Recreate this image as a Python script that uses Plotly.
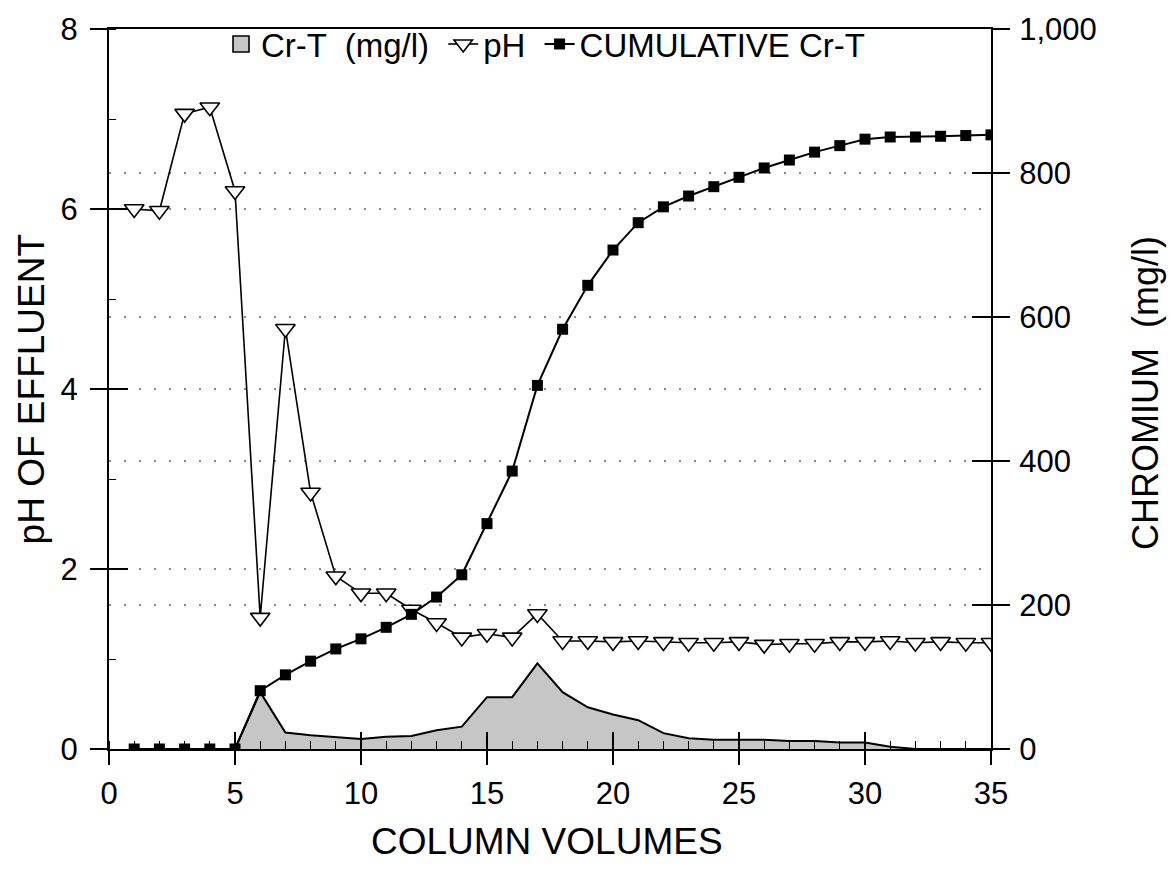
import plotly.graph_objects as go

# ---------------- data ----------------
column_volumes = list(range(1, 36))

ph_values = [6.00, 5.98, 7.06, 7.13, 6.20, 1.46, 4.67, 2.85, 1.92, 1.73,
             1.73, 1.55, 1.40, 1.24, 1.28, 1.24, 1.50, 1.20, 1.20, 1.19,
             1.20, 1.19, 1.18, 1.18, 1.19, 1.16, 1.17, 1.17, 1.19, 1.19,
             1.20, 1.18, 1.19, 1.18, 1.18]

cr_t_values = [0, 0, 0, 0, 0, 79, 23, 19, 17, 14,
               17, 18, 26, 31, 72, 72, 119, 79, 58, 48,
               40, 22, 15, 13, 13, 13, 11, 11, 9, 9,
               3, 0, 0, 0, 0]

cumulative_cr_t = [0, 0, 0, 0, 0, 81, 103, 122, 139, 153,
                   169, 187, 211, 242, 313, 386, 505, 583, 644, 693,
                   731, 753, 768, 781, 794, 807, 818, 829, 838, 847,
                   850, 850, 851, 852, 853]

x_ticks = [0, 5, 10, 15, 20, 25, 30, 35]
ph_ticks = [0, 2, 4, 6, 8]
cr_ticks = [0, 200, 400, 600, 800, 1000]

# ---------------- style ----------------
FONT = "Liberation Sans, Arial, sans-serif"
BLACK = "#000000"
GRID = "#8a8a8a"
DOTS = "2px,13px"
AREA = "#c6c6c6"
PAD = "\u00a0"

fig = go.Figure()

# legend proxy for the shaded Cr-T area (boxed swatch as in the original)
fig.add_trace(go.Scatter(
    x=[None], y=[None], name="Cr-T  (mg/l)" + PAD, yaxis="y2",
    mode="markers", legendrank=1, hoverinfo="skip",
    marker=dict(symbol="square", size=16, color=AREA,
                line=dict(color=BLACK, width=1.6)),
))

fig.add_trace(go.Scatter(
    x=column_volumes, y=ph_values, name="pH" + PAD, yaxis="y",
    mode="lines+markers", legendrank=2,
    line=dict(color=BLACK, width=1.6),
    marker=dict(symbol="triangle-down", size=17, color="white",
                line=dict(color=BLACK, width=1.6)),
))

fig.add_trace(go.Scatter(
    x=column_volumes, y=cr_t_values, name="Cr-T  (mg/l)", yaxis="y2",
    mode="lines", fill="tozeroy", fillcolor=AREA, showlegend=False,
    line=dict(color=BLACK, width=2),
))

fig.add_trace(go.Scatter(
    x=column_volumes, y=cumulative_cr_t, name="CUMULATIVE Cr-T", yaxis="y2",
    mode="lines+markers", legendrank=3,
    line=dict(color=BLACK, width=2),
    marker=dict(symbol="square", size=11, color=BLACK),
))

# invisible helpers so the overlay tick axes (ticks crossing the frame) are drawn
for xa, ya, xv, yv in [("x2", "y", x_ticks[0], ph_ticks[0]),
                       ("x", "y3", x_ticks[0], ph_ticks[0]),
                       ("x", "y4", x_ticks[0], cr_ticks[0])]:
    fig.add_trace(go.Scatter(x=[xv], y=[yv], xaxis=xa, yaxis=ya, mode="markers",
                             marker=dict(opacity=0, size=1), showlegend=False,
                             hoverinfo="skip"))

tickfont = dict(family=FONT, size=31, color=BLACK)

fig.update_layout(
    width=1171, height=879,
    margin=dict(l=109, r=180, t=24, b=130),
    paper_bgcolor="white", plot_bgcolor="white",
    font=dict(family=FONT, color=BLACK),
    showlegend=True,
    legend=dict(orientation="h", x=0.127, y=1.018, xanchor="left", yanchor="top",
                font=dict(family=FONT, size=33, color=BLACK),
                bgcolor="rgba(0,0,0,0)", itemwidth=30, traceorder="normal",
                tracegroupgap=0),
    xaxis=dict(range=[0, 35], tickvals=x_ticks, ticks="outside", ticklen=14,
               tickwidth=1.6, tickcolor=BLACK, showline=True, linewidth=2,
               linecolor=BLACK, mirror=True, showgrid=False, zeroline=False,
               tickfont=tickfont, ticklabelstandoff=2,
               minor=dict(ticks="inside", dtick=1, ticklen=8, tickwidth=1.2,
                          tickcolor=BLACK, showgrid=False)),
    xaxis2=dict(range=[0, 35], overlaying="x", anchor="y", side="bottom",
                tickvals=x_ticks, ticks="inside", ticklen=17, tickwidth=1.6,
                tickcolor=BLACK, showticklabels=False, showgrid=False,
                showline=False, zeroline=False),
    yaxis=dict(range=[0, 8], tickvals=ph_ticks, ticks="outside", ticklen=17,
               tickwidth=1.6, tickcolor=BLACK, showline=True, linewidth=2,
               linecolor=BLACK, showgrid=True, gridcolor=GRID, gridwidth=1.6,
               griddash=DOTS, zeroline=False, tickfont=tickfont,
               ticklabelstandoff=6,
               minor=dict(ticks="inside", dtick=1, ticklen=7, tickwidth=1.2,
                          tickcolor=BLACK, showgrid=False)),
    yaxis2=dict(range=[0, 1000], tickvals=cr_ticks, tickformat=",d",
                overlaying="y", side="right", anchor="x", ticks="outside",
                ticklen=17, tickwidth=1.6, tickcolor=BLACK, showline=True,
                linewidth=2, linecolor=BLACK, showgrid=True, gridcolor=GRID,
                gridwidth=1.6, griddash=DOTS, zeroline=False,
                tickfont=tickfont, ticklabelstandoff=3),
    yaxis3=dict(range=[0, 8], overlaying="y", side="left", anchor="x",
                tickvals=ph_ticks, ticks="inside", ticklen=19, tickwidth=1.6,
                tickcolor=BLACK, showticklabels=False, showgrid=False,
                showline=False, zeroline=False),
    yaxis4=dict(range=[0, 1000], overlaying="y", side="right", anchor="x",
                tickvals=cr_ticks, ticks="inside", ticklen=19, tickwidth=1.6,
                tickcolor=BLACK, showticklabels=False, showgrid=False,
                showline=False, zeroline=False),
    annotations=[
        dict(text="pH OF EFFLUENT", xref="paper", yref="paper",
             x=-0.088, y=0.50, xanchor="center", yanchor="middle",
             textangle=-90, showarrow=False,
             font=dict(family=FONT, size=37, color=BLACK)),
        dict(text="CHROMIUM  (mg/l)", xref="paper", yref="paper",
             x=1.175, y=0.495, xanchor="center", yanchor="middle",
             textangle=-90, showarrow=False,
             font=dict(family=FONT, size=36, color=BLACK)),
        dict(text="COLUMN VOLUMES", xref="paper", yref="paper",
             x=0.497, y=-0.128, xanchor="center", yanchor="middle",
             showarrow=False, font=dict(family=FONT, size=37, color=BLACK)),
    ],
)

fig.write_html("out.html")
